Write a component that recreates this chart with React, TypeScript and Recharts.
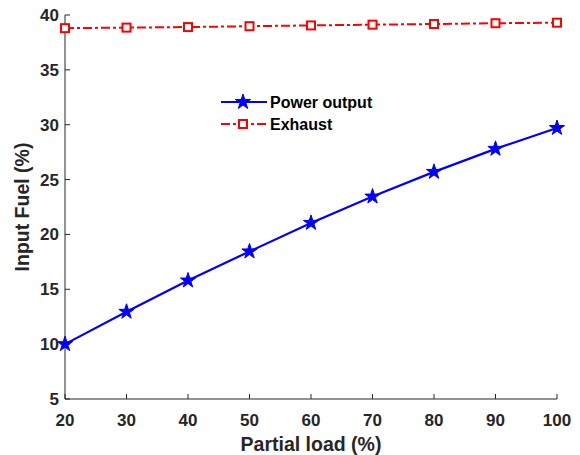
import { LineChart, Line, XAxis, YAxis, Legend, Symbols } from 'recharts'

const loads = [20, 30, 40, 50, 60, 70, 80, 90, 100]
const powerOutput = [10, 12.95, 15.8, 18.45, 21.05, 23.45, 25.7, 27.8, 29.7]
const exhaust = [38.8, 38.85, 38.9, 38.98, 39.05, 39.12, 39.18, 39.25, 39.3]
const xTicks = [20, 30, 40, 50, 60, 70, 80, 90, 100]
const yTicks = [5, 10, 15, 20, 25, 30, 35, 40]

const data = loads.map((l, i) => ({ load: l, power: powerOutput[i], exhaust: exhaust[i] }))

const font = '"Liberation Sans", Arial, sans-serif'
const axisColor = '#262626'
const tickStyle = { fill: axisColor, fontSize: 17, fontWeight: 700, fontFamily: font }
const dashDot = '9 3 3 3'

function StarDot(props: any) {
  const { cx, cy } = props
  if (cx == null || cy == null) return null
  return <Symbols cx={cx} cy={cy} type="star" size={72} fill="#0000ff" stroke="#0000ff" strokeWidth={1} />
}

function SquareDot(props: any) {
  const { cx, cy } = props
  if (cx == null || cy == null) return null
  return <rect x={cx - 4} y={cy - 4} width={8} height={8} fill="#fff" stroke="#ff0000" strokeWidth={2} />
}

function LegendBox() {
  const rows = [
    { label: 'Power output', color: '#0000ff', dash: undefined, marker: 'star' },
    { label: 'Exhaust', color: '#ff0000', dash: dashDot, marker: 'square' },
  ]
  return (
    <svg width={170} height={46}>
      {rows.map((r, i) => {
        const y = 11 + i * 22
        return (
          <g key={r.label}>
            <line x1={0} x2={46} y1={y} y2={y} stroke={r.color} strokeWidth={2} strokeDasharray={r.dash} />
            {r.marker === 'star' ? (
              <Symbols cx={22} cy={y} type="star" size={72} fill="#0000ff" stroke="#0000ff" />
            ) : (
              <rect x={18} y={y - 4} width={8} height={8} fill="#fff" stroke="#ff0000" strokeWidth={2} />
            )}
            <text x={49} y={y + 6} fontSize={16} fontWeight={700} fontFamily={font} fill="#000">{r.label}</text>
          </g>
        )
      })}
    </svg>
  )
}

export default function App() {
  return (
    <div style={{ position: 'absolute', left: 0, top: 0, width: 580, height: 455, background: '#fff' }}>
      <LineChart width={580} height={455} data={data} margin={{ top: 15, right: 23, left: 15, bottom: 0 }}>
        <XAxis
          dataKey="load" type="number" domain={[20, 100]} ticks={xTicks} height={56}
          tick={tickStyle} tickSize={-5} tickMargin={20}
          axisLine={{ stroke: axisColor }} tickLine={{ stroke: axisColor }}
          label={{ value: 'Partial load (%)', position: 'insideBottom', offset: 4, fill: axisColor, fontSize: 19.5, fontWeight: 700, fontFamily: font }}
        />
        <XAxis
          xAxisId="top" orientation="top" dataKey="load" type="number" domain={[20, 100]} ticks={xTicks} height={0}
          tickFormatter={() => ''} tickSize={-5}
          axisLine={{ stroke: axisColor }} tickLine={{ stroke: axisColor }}
        />
        <YAxis
          type="number" domain={[5, 40]} ticks={yTicks} width={50}
          tick={tickStyle} tickSize={-5} tickMargin={11}
          axisLine={{ stroke: axisColor }} tickLine={{ stroke: axisColor }}
          label={{ value: 'Input Fuel (%)', angle: -90, position: 'insideLeft', offset: 7, style: { textAnchor: 'middle' }, fill: axisColor, fontSize: 19.5, fontWeight: 700, fontFamily: font }}
        />
        <YAxis
          yAxisId="right" orientation="right" type="number" domain={[5, 40]} ticks={yTicks} width={0}
          tickFormatter={() => ''} tickSize={-5}
          axisLine={{ stroke: axisColor }} tickLine={{ stroke: axisColor }}
        />
        <Legend content={<LegendBox />} verticalAlign="middle" wrapperStyle={{ position: 'absolute', left: 221, top: 91, width: 170 }} />
        <Line
          dataKey="power" stroke="#0000ff" strokeWidth={2.2} dot={<StarDot />} activeDot={false}
          isAnimationActive={false} name="Power output"
        />
        <Line
          dataKey="exhaust" stroke="#ff0000" strokeWidth={2} strokeDasharray={dashDot} dot={<SquareDot />} activeDot={false}
          isAnimationActive={false} name="Exhaust"
        />
      </LineChart>
    </div>
  )
}
